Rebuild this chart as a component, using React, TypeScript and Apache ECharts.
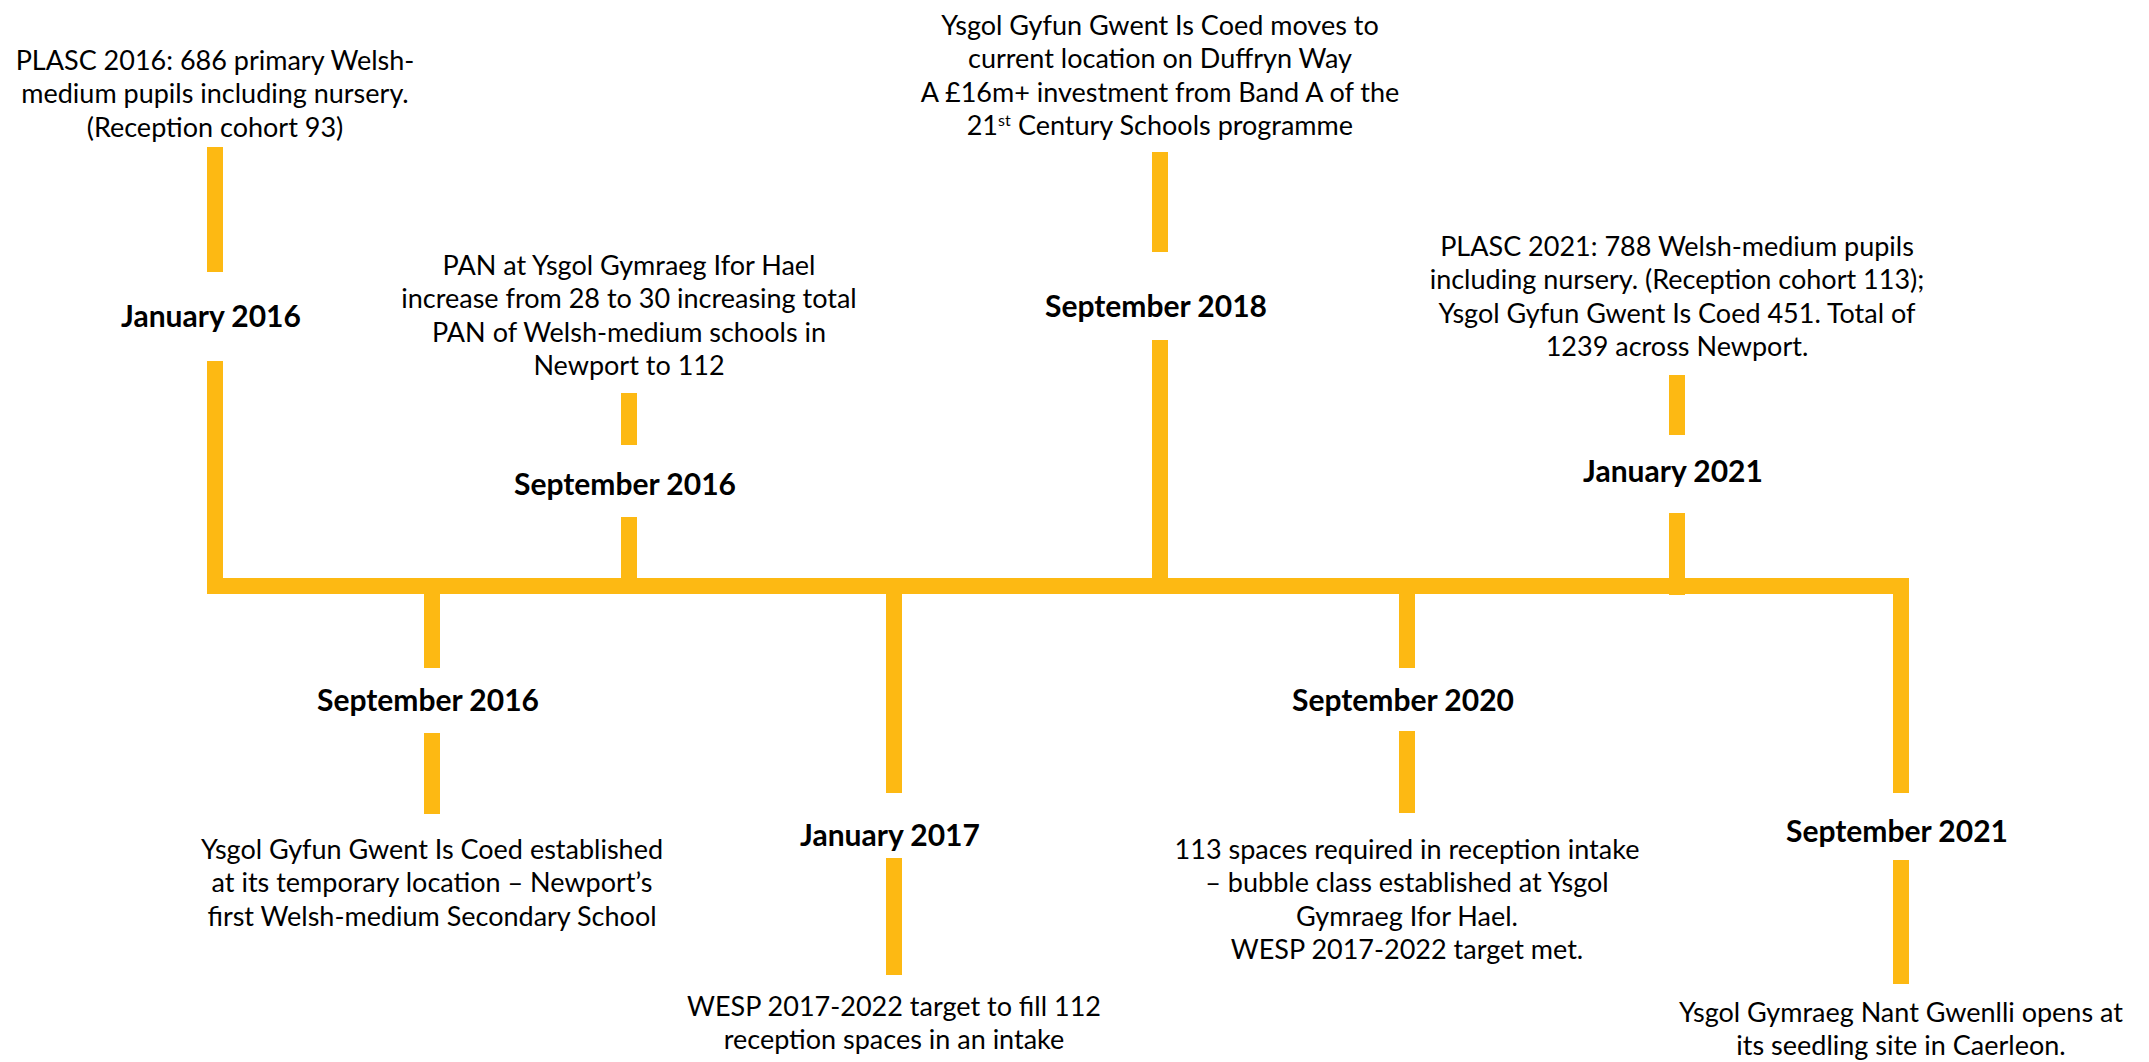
import React, { useEffect, useRef } from 'react';
import * as echarts from 'echarts';

// Timeline events, in order along the line
const dates = ['January 2016', 'September 2016', 'September 2016', 'January 2017', 'September 2018', 'September 2020', 'January 2021', 'September 2021'];
// position along the timeline (axis units)
const positions = [21.5, 43.2, 62.9, 89.4, 116.0, 140.7, 167.7, 190.1];
// vertical level of the bold date label (above line > 0, below < 0)
const labelLevels = [27.1, -11.3, 10.3, -24.8, 28.1, -11.3, 11.6, -24.4];
// vertical level of the first description line
const descLevels = [52.7, -26.2, 32.2, -41.9, 56.2, -26.2, 34.1, -42.5];
const descriptions = [
  ['PLASC 2016: 686 primary Welsh-', 'medium pupils including nursery.', '(Reception cohort 93)'],
  ['Ysgol Gyfun Gwent Is Coed established', 'at its temporary location \u2013 Newport\u2019s', 'first Welsh-medium Secondary School'],
  ['PAN at Ysgol Gymraeg Ifor Hael', 'increase from 28 to 30 increasing total', 'PAN of Welsh-medium schools in', 'Newport to 112'],
  ['WESP 2017-2022 target to fill 112', 'reception spaces in an intake'],
  ['Ysgol Gyfun Gwent Is Coed moves to', 'current location on Duffryn Way', 'A \u00a316m+ investment from Band A of the', '21{sup|st} Century Schools programme'],
  ['113 spaces required in reception intake', '\u2013 bubble class established at Ysgol', 'Gymraeg Ifor Hael.', 'WESP 2017-2022 target met.'],
  ['PLASC 2021: 788 Welsh-medium pupils', 'including nursery. (Reception cohort 113);', 'Ysgol Gyfun Gwent Is Coed 451. Total of', '1239 across Newport.'],
  ['Ysgol Gymraeg Nant Gwenlli opens at', 'its seedling site in Caerleon.'],
];
// stem segments [from, to] in level units
const upperStems = [[43.9, 31.4], [0, -8.2], [19.3, 14.1], [0, -20.7], [43.4, 33.4], [0, -8.2], [21.1, 15.1], [0, -20.7]];
const lowerStems = [[22.5, 0], [-14.7, -22.8], [6.9, 0], [-27.2, -38.9], [24.6, 0], [-14.5, -22.7], [7.3, -0.9], [-27.4, -39.8]];

const YELLOW = '#FDB913';
const FONT = 'Lato, "Open Sans", sans-serif';
const DESC_SIZE = 27;
const LABEL_SIZE = 30;
const LABEL_DX = -4;
const LINE_H = 33.5;
const STEM_W = 16;

export default function App() {
  const ref = useRef<HTMLDivElement>(null);
  useEffect(() => {
    if (!ref.current) return;
    const chart = echarts.init(ref.current, null, { renderer: 'svg' });

    const stemData: number[][] = [];
    positions.forEach((p, i) => {
      stemData.push([p, upperStems[i][0], upperStems[i][1]]);
      stemData.push([p, lowerStems[i][0], lowerStems[i][1]]);
    });
    const textData = positions.map((p, i) => [p, labelLevels[i], descLevels[i], i]);

    chart.setOption({
      animation: false,
      backgroundColor: '#ffffff',
      grid: { left: 0, right: 9, top: 6, bottom: 16, containLabel: false },
      xAxis: { type: 'value', min: 0, max: 214, show: false },
      yAxis: { type: 'value', min: -46, max: 58, show: false },
      series: [
        {
          type: 'line',
          data: [[positions[0], 0], [positions[positions.length - 1], 0]],
          showSymbol: false,
          symbol: 'none',
          silent: true,
          lineStyle: { width: STEM_W, color: YELLOW, cap: 'square' },
          z: 2,
        },
        {
          type: 'custom',
          data: stemData,
          encode: { x: 0, y: [1, 2] },
          silent: true,
          z: 3,
          renderItem: (params: any, api: any) => {
            const x = api.value(0);
            const a = api.coord([x, api.value(1)]);
            const b = api.coord([x, api.value(2)]);
            return {
              type: 'rect',
              shape: {
                x: a[0] - STEM_W / 2,
                y: Math.min(a[1], b[1]),
                width: STEM_W,
                height: Math.abs(b[1] - a[1]),
              },
              style: { fill: YELLOW },
            };
          },
        },
        {
          type: 'custom',
          data: textData,
          encode: { x: 0, y: 1 },
          silent: true,
          z: 4,
          renderItem: (params: any, api: any) => {
            const i = api.value(3);
            const lp = api.coord([api.value(0), api.value(1)]);
            const dp = api.coord([api.value(0), api.value(2)]);
            const children: any[] = [
              {
                type: 'text',
                x: lp[0] + LABEL_DX,
                y: lp[1],
                style: {
                  text: dates[i],
                  fontFamily: FONT,
                  fontWeight: 'bold',
                  fontSize: LABEL_SIZE,
                  fill: '#000000',
                  align: 'center',
                  verticalAlign: 'middle',
                },
              },
            ];
            descriptions[i].forEach((t, k) => {
              children.push({
                type: 'text',
                x: dp[0],
                y: dp[1] + k * LINE_H,
                style: {
                  text: t,
                  fontFamily: FONT,
                  fontSize: DESC_SIZE,
                  fill: '#000000',
                  align: 'center',
                  verticalAlign: 'middle',
                  rich: {
                    sup: {
                      fontFamily: FONT,
                      fontSize: 16,
                      fill: '#000000',
                      verticalAlign: 'top',
                    },
                  },
                },
              });
            });
            return { type: 'group', children };
          },
        },
      ],
    });
    return () => chart.dispose();
  }, []);
  return (
    <div
      ref={ref}
      style={{ position: 'absolute', left: 0, top: 0, width: 2149, height: 1062, background: '#fff' }}
    />
  );
}
